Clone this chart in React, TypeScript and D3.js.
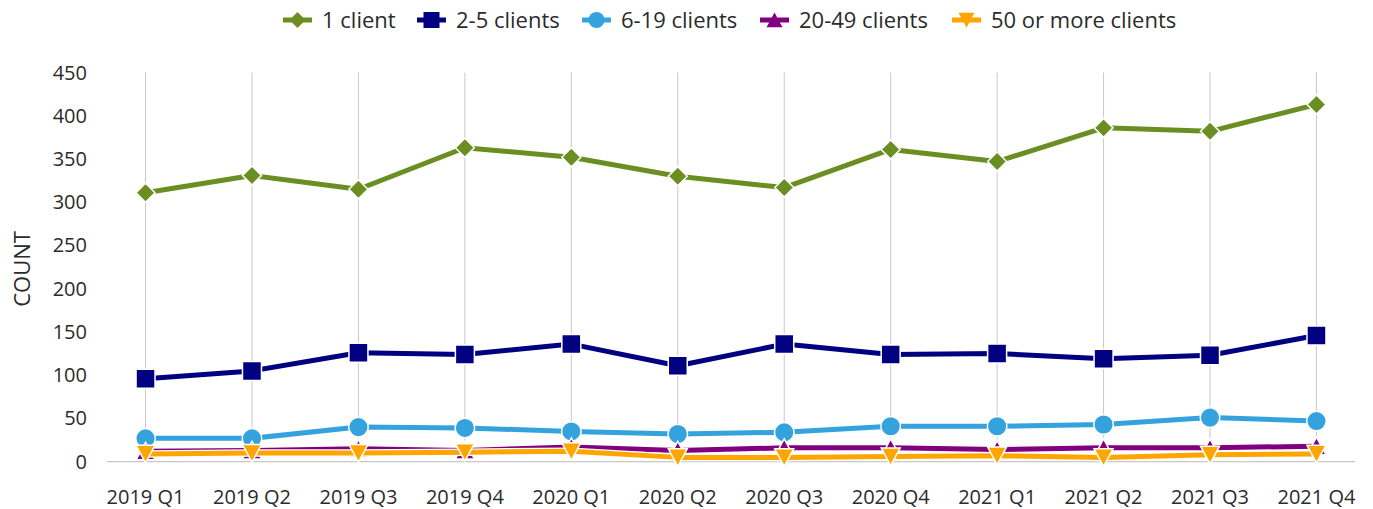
import React, { useEffect, useRef } from "react";
import * as d3 from "d3";

// quarters on the x axis
const quarters = [
  "2019 Q1", "2019 Q2", "2019 Q3", "2019 Q4",
  "2020 Q1", "2020 Q2", "2020 Q3", "2020 Q4",
  "2021 Q1", "2021 Q2", "2021 Q3", "2021 Q4",
];

// counts per client group
const oneClient = [311, 331, 315, 363, 352, 330, 317, 361, 347, 386, 382, 413];
const twoToFive = [96, 105, 126, 124, 136, 111, 136, 124, 125, 119, 123, 146];
const sixToNineteen = [27, 27, 40, 39, 35, 32, 34, 41, 41, 43, 51, 47];
const twentyToFortyNine = [12, 13, 15, 13, 17, 13, 16, 16, 14, 16, 16, 18];
const fiftyPlus = [9, 10, 10, 11, 12, 5, 5, 6, 7, 5, 8, 9];

const seriesNames = ["1 client", "2-5 clients", "6-19 clients", "20-49 clients", "50 or more clients"];
const seriesValues = [oneClient, twoToFive, sixToNineteen, twentyToFortyNine, fiftyPlus];
const seriesColors = ["#6B8E23", "#000080", "#34A2DC", "#800080", "#FFA500"];
const seriesShapes = ["diamond", "square", "circle", "triangleUp", "triangleDown"];

const yTicks = [0, 50, 100, 150, 200, 250, 300, 350, 400, 450];

const FONT = "'Open Sans', sans-serif";
const TEXT = "#2b2b2b";

// marker path centred on 0,0
const markerPath = (shape: string, r: number) => {
  switch (shape) {
    case "diamond":
      return `M0,${-r}L${r},0L0,${r}L${-r},0Z`;
    case "square":
      return `M${-r},${-r}H${r}V${r}H${-r}Z`;
    case "circle":
      return d3.symbol(d3.symbolCircle, Math.PI * r * r)() as string;
    case "triangleUp":
      return `M0,${-r * 0.95}L${r},${r * 0.9}L${-r},${r * 0.9}Z`;
    default:
      return `M${-r},${-r * 0.9}L${r},${-r * 0.9}L0,${r * 0.95}Z`;
  }
};

const App = () => {
  const ref = useRef<SVGSVGElement>(null);

  useEffect(() => {
    const svg = d3.select(ref.current);
    svg.selectAll("*").remove();

    const x = d3.scalePoint<string>().domain(quarters).range([107, 1355]).padding(0.362);
    const y = d3.scaleLinear().domain([0, 450]).range([461.7, 72.5]);

    // vertical gridlines at each quarter
    svg
      .append("g")
      .selectAll("line")
      .data(quarters)
      .enter()
      .append("line")
      .attr("x1", (d) => x(d)!)
      .attr("x2", (d) => x(d)!)
      .attr("y1", y(450))
      .attr("y2", y(0))
      .attr("stroke", "#c8c8c8")
      .attr("stroke-width", 1);

    // baseline
    svg
      .append("line")
      .attr("x1", 107)
      .attr("x2", 1355)
      .attr("y1", y(0))
      .attr("y2", y(0))
      .attr("stroke", "#c8c8c8")
      .attr("stroke-width", 1.2);

    // y tick labels
    svg
      .append("g")
      .selectAll("text")
      .data(yTicks)
      .enter()
      .append("text")
      .attr("x", 87)
      .attr("y", (d) => y(d))
      .attr("dy", "0.35em")
      .attr("text-anchor", "end")
      .style("font-family", FONT)
      .style("font-size", "20px")
      .attr("fill", TEXT)
      .text((d) => d);

    // x tick labels
    svg
      .append("g")
      .selectAll("text")
      .data(quarters)
      .enter()
      .append("text")
      .attr("x", (d) => x(d)!)
      .attr("y", 497)
      .attr("dy", "0.35em")
      .attr("text-anchor", "middle")
      .style("font-family", FONT)
      .style("font-size", "20px")
      .attr("fill", TEXT)
      .text((d) => d);

    // y axis title
    svg
      .append("text")
      .attr("transform", `translate(22,269) rotate(-90)`)
      .attr("dy", "0.35em")
      .attr("text-anchor", "middle")
      .style("font-family", FONT)
      .style("font-size", "22px")
      .attr("fill", TEXT)
      .text("COUNT");

    // series lines and markers
    const line = d3
      .line<number>()
      .x((_, i) => x(quarters[i])!)
      .y((d) => y(d));

    seriesValues.forEach((vals, s) => {
      const g = svg.append("g");
      g.append("path")
        .attr("d", line(vals))
        .attr("fill", "none")
        .attr("stroke", "#fff")
        .attr("stroke-width", 7.5)
        .attr("stroke-linejoin", "round");
      g.append("path")
        .attr("d", line(vals))
        .attr("fill", "none")
        .attr("stroke", seriesColors[s])
        .attr("stroke-width", 5)
        .attr("stroke-linejoin", "round");
      g.selectAll(".marker")
        .data(vals)
        .enter()
        .append("path")
        .attr("class", "marker")
        .attr("transform", (d, i) => `translate(${x(quarters[i])},${y(d)})`)
        .attr("d", markerPath(seriesShapes[s], seriesShapes[s] === "circle" ? 9.8 : 9.5))
        .attr("fill", seriesColors[s])
        .attr("stroke", "#fff")
        .attr("stroke-width", 1.5);
    });

    // legend
    const legendX = [283, 417, 582, 760, 952];
    const legend = svg
      .append("g")
      .selectAll("g")
      .data(seriesNames)
      .enter()
      .append("g")
      .attr("transform", (_, i) => `translate(${legendX[i]},20)`);
    legend
      .append("line")
      .attr("x1", 0)
      .attr("x2", 29)
      .attr("stroke", (_, i) => seriesColors[i])
      .attr("stroke-width", 5);
    legend
      .append("path")
      .attr("transform", "translate(14.5,0)")
      .attr("d", (_, i) => markerPath(seriesShapes[i], 8))
      .attr("fill", (_, i) => seriesColors[i]);
    legend
      .append("text")
      .attr("x", 39)
      .attr("dy", "0.35em")
      .style("font-family", FONT)
      .style("font-size", "22px")
      .attr("fill", TEXT)
      .text((d) => d);
  }, []);

  return (
    <div style={{ position: "absolute", left: 0, top: 0 }}>
      <svg ref={ref} width={1373} height={509} style={{ display: "block", background: "#fff" }} />
    </div>
  );
};

export default App;
